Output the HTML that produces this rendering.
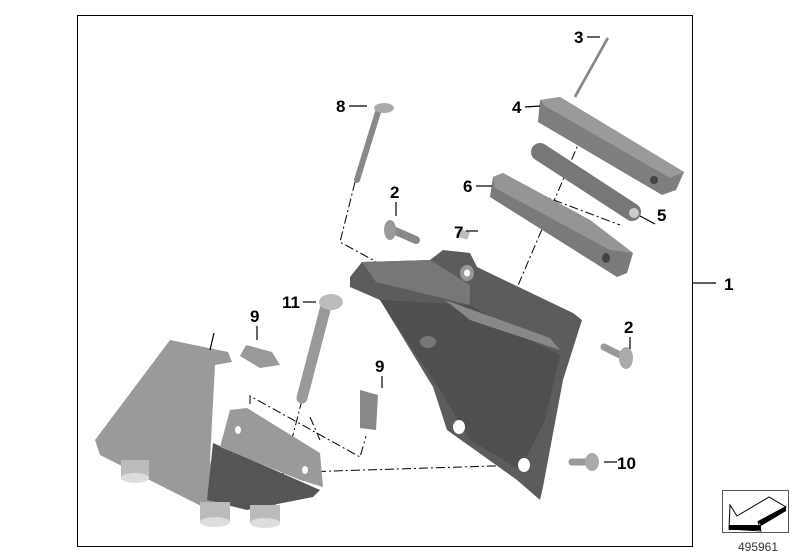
<!DOCTYPE html>
<html><head><meta charset="utf-8"><style>
html,body{margin:0;padding:0;background:#fff;}
svg{display:block;}
.l{font-family:"Liberation Sans",sans-serif;font-weight:bold;font-size:17px;fill:#000;}
.dd{stroke:#000;stroke-width:1;fill:none;stroke-dasharray:9,3,2,3;}
.ln{stroke:#000;stroke-width:1.2;fill:none;}
</style></head><body>
<svg width="800" height="560" viewBox="0 0 800 560" xmlns="http://www.w3.org/2000/svg">
<rect x="77.5" y="15.5" width="615" height="531" fill="none" stroke="#000" stroke-width="1"/>
<line x1="692" y1="283" x2="716" y2="283" class="ln"/>
<text x="724" y="290" class="l">1</text>

<!-- dash-dot lines -->
<polyline class="dd" points="355,182 340,242 446,300"/>
<line class="dd" x1="445" y1="254" x2="575" y2="320"/>
<line class="dd" x1="505" y1="316" x2="580" y2="140"/>
<line class="dd" x1="506" y1="182" x2="620" y2="225"/>
<line class="dd" x1="300" y1="472" x2="525" y2="465"/>
<line class="dd" x1="302" y1="400" x2="275" y2="505"/>
<polyline class="dd" points="250,404 250,396 360,457 366,436"/>
<line class="dd" x1="310" y1="417" x2="320" y2="440"/>

<!-- main dark bracket -->
<polygon points="350,277 362,262 430,260 443,250 470,253 477,267 573,313 582,320 563,380 543,487 540,500 517,480 447,430 433,387 380,300 350,287" fill="#5c5c5c"/>
<polygon points="362,262 430,260 470,285 470,305 450,300 376,282" fill="#777"/>
<polygon points="380,300 470,305 540,345 560,355 545,420 520,470 470,440 440,390" fill="#4f4f4f"/>
<polygon points="445,300 550,338 560,350 470,320" fill="#888"/>
<ellipse cx="467" cy="273" rx="7" ry="8" fill="#999"/>
<ellipse cx="467" cy="273" rx="3" ry="3.5" fill="#fff"/>
<ellipse cx="459" cy="427" rx="6" ry="7" fill="#fff"/>
<ellipse cx="524" cy="465" rx="6" ry="7" fill="#fff"/>
<ellipse cx="428" cy="342" rx="8" ry="6" fill="#777"/>

<!-- part 4 -->
<polygon points="540,100 560,97 684,172 676,190 662,195 538,122" fill="#7e7e7e"/>
<polygon points="540,100 560,97 684,172 670,178 545,106" fill="#9a9a9a"/>
<ellipse cx="654" cy="180" rx="4" ry="4" fill="#444"/>
<!-- part 5 -->
<line x1="540" y1="152" x2="632" y2="212" stroke="#777" stroke-width="18" stroke-linecap="round"/>
<ellipse cx="634" cy="213" rx="5" ry="5" fill="#ccc"/>
<line x1="640" y1="216" x2="655" y2="224" class="ln"/>
<text x="657" y="221" class="l">5</text>
<!-- part 6 -->
<polygon points="493,177 503,173 590,220 633,253 627,273 617,277 490,197" fill="#7a7a7a"/>
<polygon points="493,177 503,173 590,220 633,253 610,250 495,188" fill="#959595"/>
<ellipse cx="606" cy="258" rx="4" ry="5" fill="#444"/>
<!-- part 3 pins -->
<line x1="608" y1="38" x2="575" y2="97" stroke="#888" stroke-width="3"/>
<line x1="610" y1="38" x2="577" y2="97" stroke="#fff" stroke-width="1"/>
<!-- part 8 bolt -->
<line x1="378" y1="112" x2="357" y2="180" stroke="#888" stroke-width="6" stroke-linecap="round"/>
<ellipse cx="384" cy="108" rx="10" ry="5" fill="#aaa"/>
<!-- bolt 2 left -->
<line x1="393" y1="230" x2="416" y2="240" stroke="#888" stroke-width="8" stroke-linecap="round"/>
<ellipse cx="390" cy="230" rx="6" ry="10" fill="#999"/>
<!-- bolt 2 right -->
<line x1="604" y1="347" x2="620" y2="355" stroke="#999" stroke-width="7" stroke-linecap="round"/>
<ellipse cx="626" cy="358" rx="7" ry="11" fill="#aaa"/>
<!-- part 7 -->
<rect x="457" y="230" width="12" height="8" fill="#bbb" transform="rotate(20 463 234)"/>
<!-- bolt 10 -->
<line x1="572" y1="462" x2="585" y2="462" stroke="#999" stroke-width="7" stroke-linecap="round"/>
<ellipse cx="592" cy="462" rx="7" ry="9" fill="#aaa"/>
<!-- bolt 11 -->
<line x1="326" y1="306" x2="302" y2="398" stroke="#999" stroke-width="11" stroke-linecap="round"/>
<ellipse cx="331" cy="302" rx="12" ry="8" fill="#bbb"/>
<!-- nuts 9 -->
<polygon points="246,345 272,352 280,365 260,368 240,356" fill="#999"/>
<polygon points="360,390 378,395 376,430 360,428" fill="#888"/>

<!-- left bracket -->
<polygon points="95,440 170,340 228,352 232,362 215,365 210,460 215,500 205,508 100,455" fill="#9a9a9a"/>
<polygon points="213,443 320,490 313,497 247,510 207,500" fill="#555"/>
<polygon points="230,410 247,408 320,453 323,487 300,480 220,447" fill="#9a9a9a"/>
<ellipse cx="238" cy="430" rx="3" ry="4" fill="#fff"/>
<ellipse cx="305" cy="470" rx="3" ry="4" fill="#fff"/>
<rect x="121" y="460" width="28" height="18" fill="#bbb"/><ellipse cx="135" cy="478" rx="14" ry="5" fill="#ddd"/>
<rect x="200" y="502" width="30" height="20" fill="#bbb"/><ellipse cx="215" cy="522" rx="15" ry="5" fill="#ddd"/>
<rect x="250" y="505" width="30" height="18" fill="#bbb"/><ellipse cx="265" cy="523" rx="15" ry="5" fill="#ddd"/>
<line x1="214" y1="333" x2="210" y2="350" class="ln"/>

<!-- labels -->
<text x="574" y="43" class="l">3</text><line x1="587" y1="37" x2="600" y2="37" class="ln"/>
<text x="512" y="113" class="l">4</text><line x1="525" y1="107" x2="540" y2="106" class="ln"/>
<text x="336" y="112" class="l">8</text><line x1="349" y1="106" x2="367" y2="106" class="ln"/>
<text x="463" y="192" class="l">6</text><line x1="476" y1="186" x2="492" y2="186" class="ln"/>
<text x="390" y="198" class="l">2</text><line x1="396" y1="202" x2="396" y2="216" class="ln"/>
<text x="454" y="238" class="l">7</text><line x1="466" y1="231" x2="478" y2="231" class="ln"/>
<text x="624" y="333" class="l">2</text><line x1="630" y1="337" x2="630" y2="349" class="ln"/>
<text x="282" y="308" class="l">11</text><line x1="303" y1="302" x2="316" y2="302" class="ln"/>
<text x="250" y="322" class="l">9</text><line x1="257" y1="326" x2="257" y2="340" class="ln"/>
<text x="375" y="372" class="l">9</text><line x1="382" y1="376" x2="382" y2="388" class="ln"/>
<line x1="604" y1="462" x2="617" y2="462" class="ln"/><text x="617" y="469" class="l">10</text>

<!-- icon -->
<rect x="722.5" y="490.5" width="66" height="42" fill="#fff" stroke="#555" stroke-width="1"/>
<polygon points="730,505 737,516 769,497 786,507 758,522 761,531 729,529" fill="#fff" stroke="#000" stroke-width="1"/>
<rect x="729" y="525" width="32" height="5" fill="#000"/>
<polygon points="758,521 786,506 786,511 761,526" fill="#000"/>
<text x="758" y="551" text-anchor="middle" font-family="Liberation Sans,sans-serif" font-size="12" fill="#333">495961</text>
</svg>
</body></html>
